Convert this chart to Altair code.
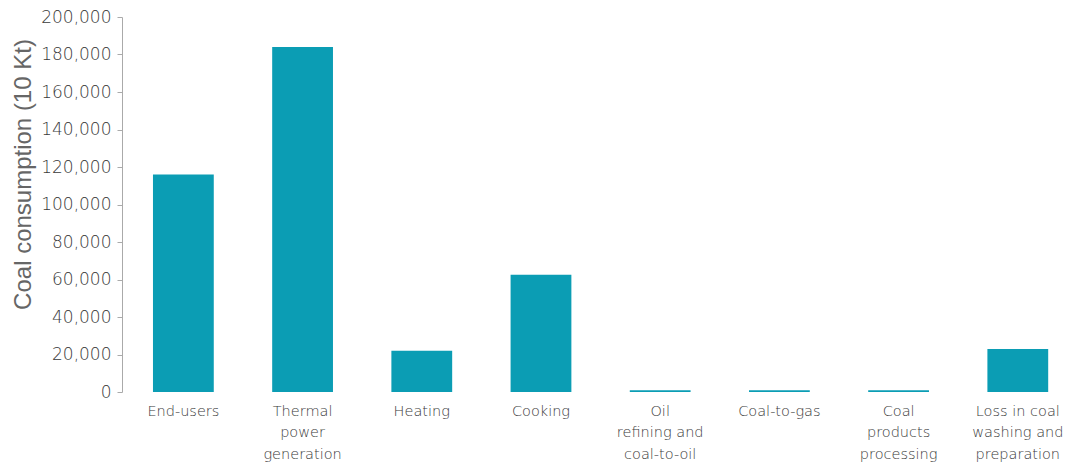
import altair as alt
import pandas as pd

categories = [
    "End-users",
    "Thermal\npower\ngeneration",
    "Heating",
    "Cooking",
    "Oil\nrefining and\ncoal-to-oil",
    "Coal-to-gas",
    "Coal\nproducts\nprocessing",
    "Loss in coal\nwashing and\npreparation",
]
values = [116000, 184000, 22000, 62500, 900, 900, 900, 23000]
y_ticks = [0, 20000, 40000, 60000, 80000, 100000, 120000, 140000, 160000, 180000, 200000]

df = pd.DataFrame({"category": categories, "value": values})

chart = alt.Chart(df).mark_bar(color="#0b9db4").encode(
    x=alt.X(
        "category:N",
        sort=categories,
        title=None,
        scale=alt.Scale(paddingInner=0.49, paddingOuter=0.213, align=0.61),
        axis=alt.Axis(
            domain=False,
            ticks=False,
            labelAngle=0,
            labelExpr="split(datum.label, '\\n')",
            labelFont="DejaVu Sans",
            labelFontWeight=200,
            labelFontSize=14.5,
            labelColor="#3a3a3a",
            labelLineHeight=21.5,
            labelPadding=19,
            labelBaseline="middle",
        ),
    ),
    y=alt.Y(
        "value:Q",
        scale=alt.Scale(domain=[0, 200000], nice=False),
        axis=alt.Axis(
            values=y_ticks,
            format=",.0f",
            grid=False,
            domainColor="#aaaaaa",
            tickColor="#aaaaaa",
            tickSize=5,
            labelFont="DejaVu Sans",
            labelFontWeight=200,
            labelFontSize=17,
            labelColor="#3a3a3a",
            labelPadding=6,
            title="Coal consumption (10 Kt)",
            titleFont="Liberation Sans",
            titleFontSize=24,
            titleFontWeight="normal",
            titleColor="#666666",
            titleAngle=270,
            titleX=-99,
            titleY=157,
            titleAlign="center",
            titleBaseline="middle",
        ),
    ),
).properties(
    width=946,
    height=375,
    autosize=alt.AutoSizeParams(type="none"),
    padding={"left": 114, "top": 9, "right": 0, "bottom": 70},
).configure_view(stroke=None)

chart.save("out.html", embed_options={"renderer": "svg", "actions": False})
